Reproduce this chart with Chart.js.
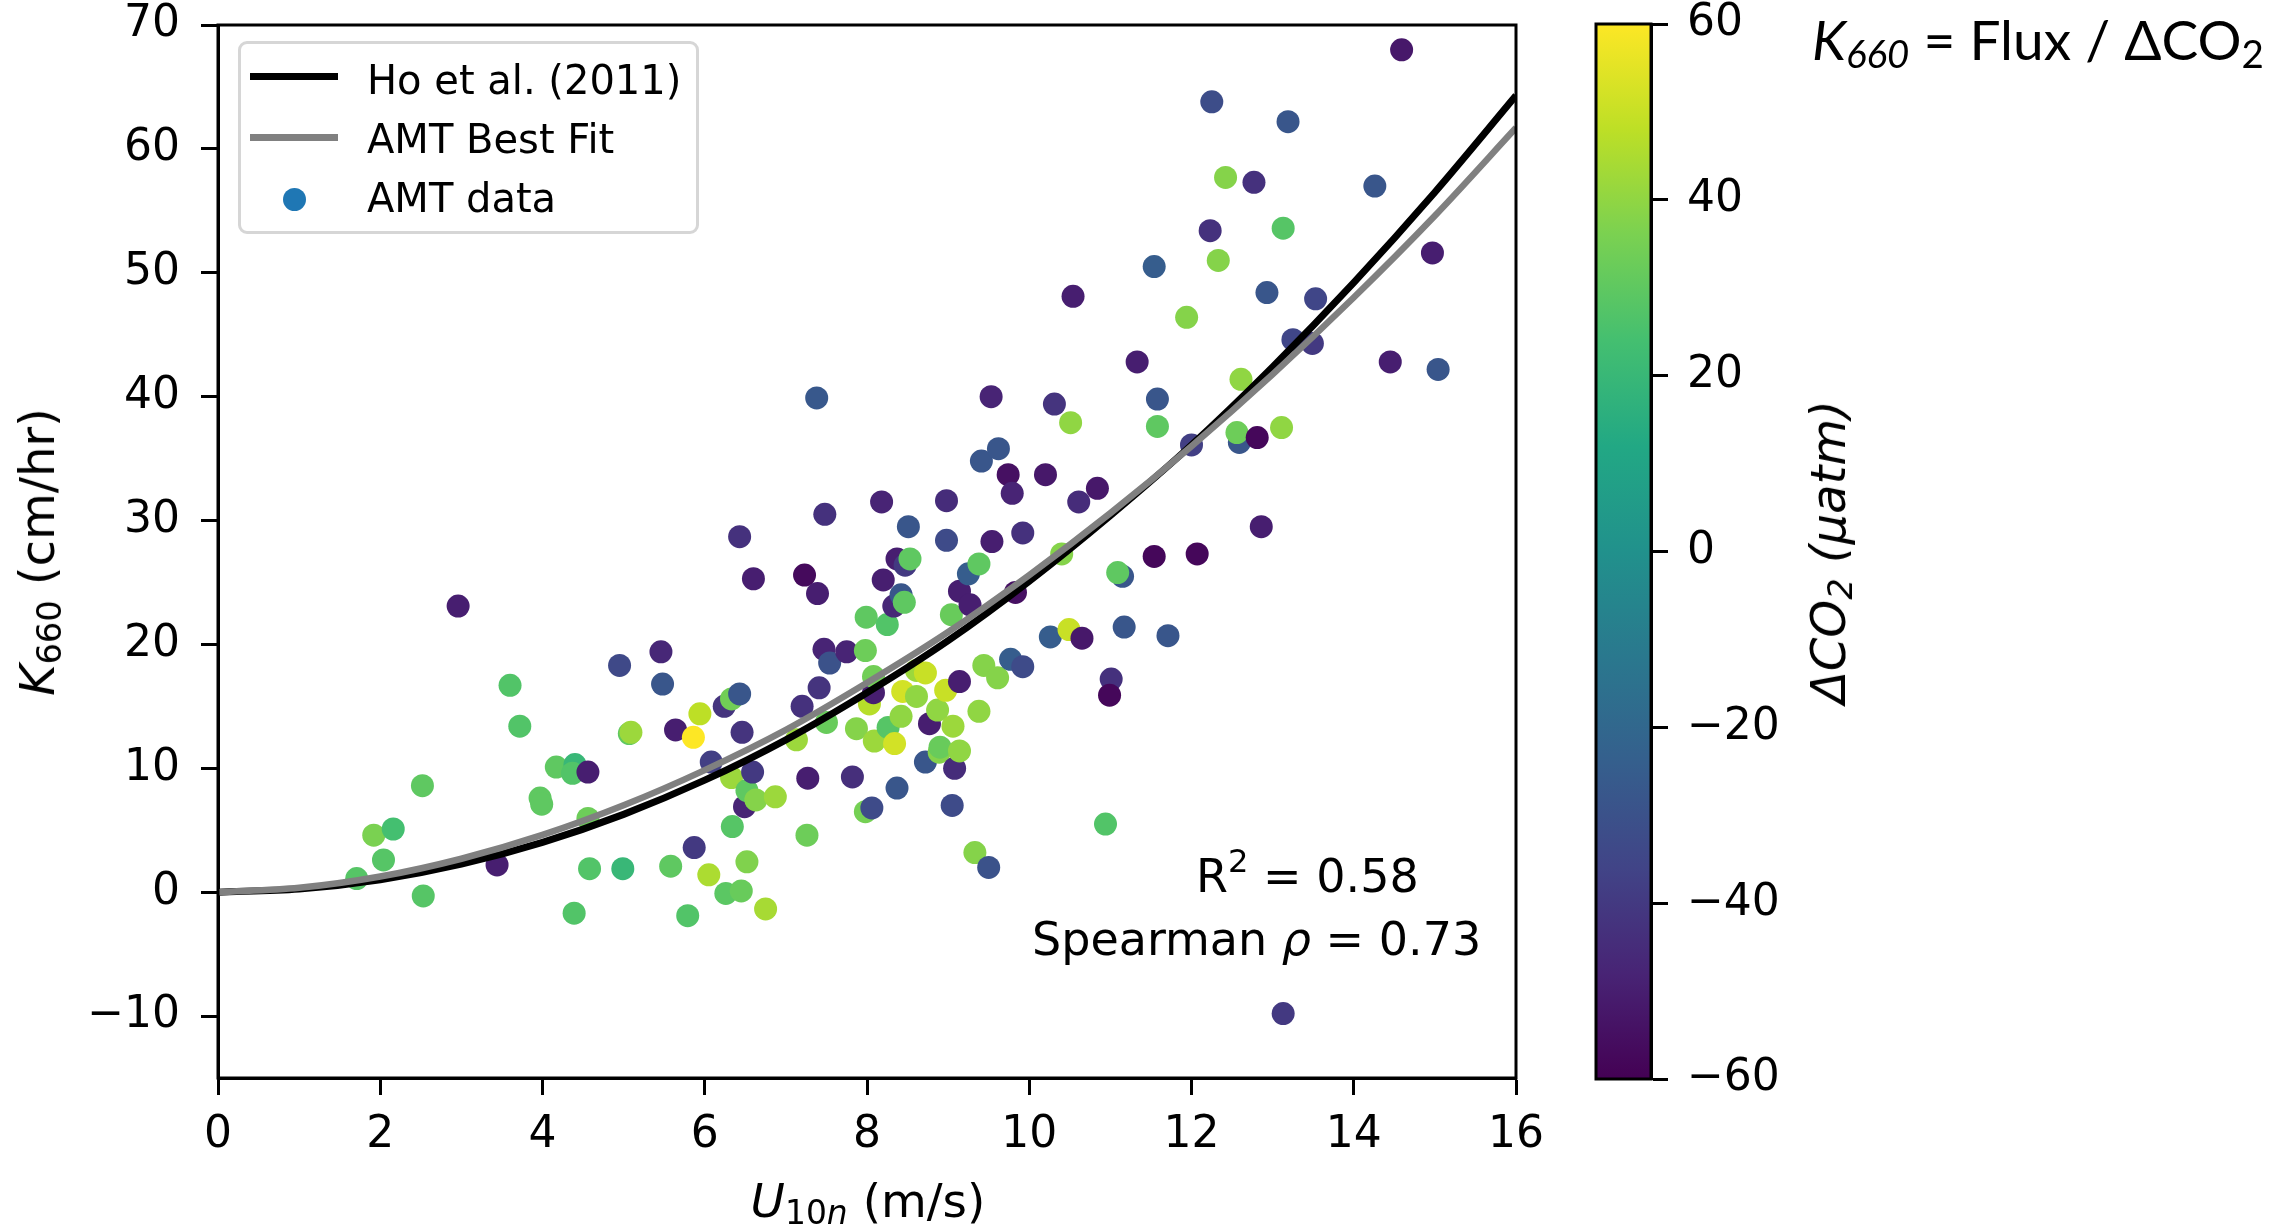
<!DOCTYPE html>
<html>
<head>
<meta charset="utf-8">
<title>K660 vs U10n</title>
<script src="https://cdn.jsdelivr.net/npm/chart.js@4.4.1/dist/chart.umd.min.js"></script>
<style>
  html, body { margin: 0; padding: 0; background: #fff; }
  body { position: relative; width: 2292px; height: 1228px; overflow: hidden; font-family: 'DejaVu Sans', sans-serif; color: #000; }
  canvas { position: absolute; top: 0; }
  #main { left: 0; }
  #cbar { left: 1560px; }
  .txt { position: absolute; white-space: nowrap; line-height: 1; }
  .rot { transform: translate(-50%, -50%) rotate(-90deg); }
  sub { font-size: 0.7em; line-height: 0; vertical-align: -0.22em; }
  sup { font-size: 0.7em; line-height: 0; vertical-align: 0.62em; }
  #legend-box { position: absolute; left: 238px; top: 41px; width: 461px; height: 193px; box-sizing: border-box;
    border: 3px solid #d6d6d6; border-radius: 9px; background: rgba(255,255,255,0.8); }
  .sw { position: absolute; }
</style>
</head>
<body>
<canvas id="main" width="2292" height="1228"></canvas>
<canvas id="cbar" width="300" height="1228"></canvas>

<div id="legend-box"></div>
<div class="sw" style="left:250px; top:73px; width:88px; height:7px; background:#000;"></div>
<div class="sw" style="left:250px; top:134px; width:88px; height:7px; background:#808080;"></div>
<div class="sw" style="left:283px; top:188px; width:23px; height:23px; border-radius:50%; background:#1f77b4;"></div>
<div class="txt" style="left:367px; top:60px; font-size:40px;">Ho et al. (2011)</div>
<div class="txt" style="left:367px; top:119px; font-size:40px;">AMT Best Fit</div>
<div class="txt" style="left:367px; top:178px; font-size:40px;">AMT data</div>

<div class="txt" style="left:1196px; top:853px; font-size:46px;">R<sup>2</sup> = 0.58</div>
<div class="txt" style="left:1032px; top:916px; font-size:46px;">Spearman <i>ρ</i> = 0.73</div>

<div class="txt rot" style="left:37px; top:552px; font-size:48px;"><i>K</i><sub>660</sub> (cm/hr)</div>
<div class="txt" style="left:868px; top:1177px; font-size:47px; transform:translateX(-50%);"><i>U</i><sub><span>10</span><i>n</i></sub> (m/s)</div>
<div class="txt rot" style="left:1828px; top:552px; font-size:48px; font-style:italic;">ΔCO<sub>2</sub> (μatm)</div>

<div class="txt" style="left:1812px; top:12px; font-size:55px; font-family:Lato, 'Open Sans', sans-serif;"><i>K</i><sub><i>660</i></sub> = Flux / ΔCO<sub>2</sub></div>

<script>
// wind speed (m/s), transfer velocity (cm/hr), delta pCO2 (uatm) for each AMT point
const uData = [1.71, 1.92, 2.04, 2.16, 2.52, 2.53, 2.96, 3.44, 3.60, 3.72, 3.97, 3.99, 4.17, 4.40, 4.37, 4.56, 4.56, 4.58, 4.39, 4.95,
  4.99, 5.07, 5.09, 5.46, 5.48, 5.58, 5.64, 5.79, 5.86, 5.87, 5.94, 6.05, 6.08, 6.24, 6.26, 6.33, 6.33, 6.34, 6.43, 6.43,
  6.45, 6.46, 6.49, 6.52, 6.52, 6.59, 6.60, 6.63, 6.75, 6.87, 7.13, 7.20, 7.23, 7.26, 7.27, 7.38, 7.39, 7.41, 7.47, 7.48,
  7.50, 7.54, 7.75, 7.82, 7.87, 7.98, 7.98, 7.99, 8.03, 8.06, 8.08, 8.09, 8.08, 8.18, 8.20, 8.25, 8.26, 8.33, 8.34, 8.37,
  8.37, 8.42, 8.42, 8.44, 8.46, 8.47, 8.51, 8.53, 8.61, 8.61, 8.72, 8.72, 8.77, 8.87, 8.89, 8.90, 8.97, 8.98, 8.98, 9.04,
  9.05, 9.06, 9.08, 9.14, 9.14, 9.14, 9.25, 9.27, 9.33, 9.38, 9.38, 9.41, 9.44, 9.50, 9.53, 9.54, 9.61, 9.62, 9.74, 9.77,
  9.79, 9.83, 9.92, 9.92, 10.20, 10.26, 10.31, 10.40, 10.49, 10.51, 10.54, 10.61, 10.65, 10.84, 10.94, 11.01, 10.99, 11.15, 11.09, 11.17,
  11.33, 11.54, 11.54, 11.58, 11.58, 11.71, 11.94, 12.00, 12.07, 12.23, 12.25, 12.33, 12.42, 12.59, 12.56, 12.61, 12.77, 12.81, 12.86, 12.93,
  13.11, 13.13, 13.13, 13.19, 13.25, 13.49, 13.53, 14.26, 14.45, 14.59, 14.97, 15.04];
const kData = [1.1, 4.6, 2.6, 5.1, 8.6, -0.3, 23.1, 2.2, 16.7, 13.4, 7.6, 7.1, 10.1, 10.3, 9.6, 9.7, 5.95, 1.9, -1.7, 18.3,
  1.9, 12.8, 12.9, 19.4, 16.8, 2.1, 13.1, -1.9, 12.5, 3.6, 14.4, 1.4, 10.5, 15.0, -0.1, 15.6, 9.25, 5.3, 16.0, 28.7,
  0.1, 12.9, 6.9, 8.2, 2.45, 9.7, 25.3, 7.45, -1.35, 7.7, 12.3, 15.0, 25.6, 4.6, 9.2, 39.9, 24.1, 16.5, 19.6, 30.5,
  13.7, 18.5, 19.4, 9.3, 13.2, 6.5, 19.5, 22.2, 15.2, 6.8, 16.1, 12.2, 17.4, 31.5, 25.2, 21.6, 13.3, 23.1, 12.0, 26.9,
  8.4, 24.0, 14.2, 16.2, 23.4, 26.4, 29.5, 26.9, 15.8, 17.9, 17.7, 10.5, 13.6, 14.7, 11.3, 11.7, 16.3, 28.4, 31.6, 22.4,
  7.0, 13.4, 10.0, 11.4, 17.0, 24.3, 25.7, 23.2, 3.2, 26.5, 14.6, 34.8, 18.3, 2.0, 40.0, 28.3, 17.3, 35.8, 33.7, 18.8,
  32.2, 24.2, 29.0, 18.2, 33.7, 20.6, 39.4, 27.3, 21.2, 37.9, 48.1, 31.5, 20.5, 32.6, 5.5, 17.2, 15.9, 25.5, 25.8, 21.4,
  42.8, 27.1, 50.5, 39.8, 37.6, 20.7, 46.4, 36.1, 27.3, 53.4, 63.8, 51.0, 57.7, 36.3, 37.1, 41.4, 57.3, 36.7, 29.5, 48.4,
  37.5, 53.6, -9.8, 62.2, 44.6, 44.3, 47.9, 57.0, 42.8, 68.0, 51.6, 42.2];
const dco2Data = [28, 36, 28, 24, 30, 28, -50, -50, 27, 27, 30, 30, 30, 20, 27, -50, 33, 27, 27, -34,
  20, 30, 42, -47, -28, 30, -50, 27, 60, -40, 48, 45, -38, -42, 29, 34, 42, 28, -28, -43,
  32, -42, -48, 30, 37, -40, -50, 38, 44, 42, 42, -43, -57, 33, -50, -27, -50, -42, -48, -43,
  32, -30, -48, -44, 38, 35, 33, 30, 47, -33, -50, 42, 34, -48, -50, 27, 28, -47, 52, -50,
  -28, -28, 40, 52, 30, -40, -28, 30, 40, 42, 50, -28, -50, 40, 38, 32, 50, -33, -45, 32,
  -33, 42, -45, 40, -50, -50, -25, -50, 38, 30, 40, -28, 38, -30, -48, -50, 38, -28, -55, -25,
  -48, -55, -43, -33, -52, -25, -42, 38, 50, 40, -50, -45, -52, -52, 27, -43, -58, -28, 30, -28,
  -50, -58, -25, -28, 30, -28, 38, -38, -58, -43, -32, 38, 38, -28, 33, 40, -43, -58, -50, -28,
  40, 28, -40, -28, -35, -40, -35, -28, -50, -52, -50, -28];

// curves at whole m/s steps
const uCurve = [0, 1, 2, 3, 4, 5, 6, 7, 8, 9, 10, 11, 12, 13, 14, 15, 16];
const hoK = [0, 0.25, 1.0, 2.26, 4.02, 6.28, 9.04, 12.3, 16.1, 20.3, 25.1, 30.4, 36.1, 42.4, 49.2, 56.5, 64.3];
const fitK = [0, 0.35, 1.26, 2.70, 4.62, 7.01, 9.85, 13.1, 16.9, 21.0, 25.6, 30.6, 36.0, 41.8, 48.0, 54.6, 61.7];

const xTicks = [0, 2, 4, 6, 8, 10, 12, 14, 16];
const yTicks = [-10, 0, 10, 20, 30, 40, 50, 60, 70];
const cbTicks = [-60, -40, -20, 0, 20, 40, 60];
const cbMin = -60, cbMax = 60;

const VIRIDIS = ['#440154', '#482475', '#414487', '#355f8d', '#2a788e', '#21918c',
  '#22a884', '#44bf70', '#7ad151', '#bddf26', '#fde725'];

function hexToRgb(h) {
  return [parseInt(h.slice(1, 3), 16), parseInt(h.slice(3, 5), 16), parseInt(h.slice(5, 7), 16)];
}

function viridis(v) {
  let t = (v - cbMin) / (cbMax - cbMin);
  t = Math.max(0, Math.min(1, t));
  const pos = t * (VIRIDIS.length - 1);
  const i = Math.min(Math.floor(pos), VIRIDIS.length - 2);
  const f = pos - i;
  const a = hexToRgb(VIRIDIS[i]), b = hexToRgb(VIRIDIS[i + 1]);
  const c = a.map((x, j) => Math.round(x + (b[j] - x) * f));
  return `rgb(${c[0]},${c[1]},${c[2]})`;
}

const minusSign = v => String(v).replace('-', '\u2212');
const tickFont = { family: 'DejaVu Sans', size: 44 };

// black frame round the plotting area
const frameBox = {
  id: 'frameBox',
  afterDraw(chart) {
    const { ctx, chartArea: a } = chart;
    ctx.save();
    ctx.strokeStyle = '#000';
    ctx.lineWidth = 3;
    ctx.strokeRect(a.left, a.top, a.right - a.left, a.bottom - a.top);
    ctx.restore();
  }
};

function axisGrid() {
  return { drawOnChartArea: false, drawTicks: true, tickLength: 17, tickWidth: 3, tickColor: '#000' };
}

// nudge layout padding until the plot area sits where the figure has it
function pinArea(chart, box) {
  const a = chart.chartArea;
  const p = chart.config.options.layout.padding;
  chart.config.options.layout.padding = {
    top: p.top + (box.top - a.top),
    bottom: p.bottom + (a.bottom - box.bottom),
    left: p.left + (box.left - a.left),
    right: p.right + (a.right - box.right)
  };
  chart.update();
}

function buildMain() {
  const points = uData.map((u, i) => ({ x: u, y: kData[i] }));
  const colors = dco2Data.map(viridis);

  const chart = new Chart(document.getElementById('main'), {
    type: 'scatter',
    data: {
      datasets: [
        {
          label: 'AMT Best Fit',
          data: uCurve.map((u, i) => ({ x: u, y: fitK[i] })),
          showLine: true, borderColor: '#808080', borderWidth: 6.5,
          pointRadius: 0, cubicInterpolationMode: 'monotone', order: 0
        },
        {
          label: 'Ho et al. (2011)',
          data: uCurve.map((u, i) => ({ x: u, y: hoK[i] })),
          showLine: true, borderColor: '#000', borderWidth: 7,
          pointRadius: 0, cubicInterpolationMode: 'monotone', order: 1
        },
        {
          label: 'AMT data',
          data: points,
          showLine: false, pointRadius: 11.5, pointBorderWidth: 0,
          pointBackgroundColor: colors, order: 2
        }
      ]
    },
    options: {
      responsive: false,
      animation: false,
      events: [],
      devicePixelRatio: 1,
      layout: { padding: { left: 0, top: 25, right: 776, bottom: 0 }, autoPadding: false },
      plugins: { legend: { display: false }, tooltip: { enabled: false } },
      scales: {
        x: {
          type: 'linear', min: 0, max: 16,
          afterBuildTicks: s => { s.ticks = xTicks.map(v => ({ value: v })); },
          afterFit: s => { s.height = 150; s.paddingLeft = 0; s.paddingRight = 0; },
          ticks: { font: tickFont, color: '#000', padding: 14, maxRotation: 0, autoSkip: false },
          grid: axisGrid(),
          border: { display: true, color: '#000', width: 3 }
        },
        y: {
          type: 'linear', min: -15, max: 70,
          afterBuildTicks: s => { s.ticks = yTicks.map(v => ({ value: v })); },
          afterFit: s => { s.width = 218; s.paddingTop = 0; s.paddingBottom = 0; },
          ticks: { font: tickFont, color: '#000', padding: 21, autoSkip: false, callback: minusSign },
          grid: axisGrid(),
          border: { display: true, color: '#000', width: 3 }
        }
      }
    },
    plugins: [frameBox]
  });
  pinArea(chart, { left: 218, right: 1516, top: 25, bottom: 1078 });
}

function buildColorbar() {
  const chart = new Chart(document.getElementById('cbar'), {
    type: 'bar',
    data: {
      labels: ['dco2'],
      datasets: [{
        data: [[cbMin, cbMax]],
        borderWidth: 0,
        barPercentage: 1,
        categoryPercentage: 1,
        backgroundColor: c => {
          const a = c.chart.chartArea;
          if (!a) return VIRIDIS[5];
          const g = c.chart.ctx.createLinearGradient(0, a.bottom, 0, a.top);
          VIRIDIS.forEach((col, i) => g.addColorStop(i / (VIRIDIS.length - 1), col));
          return g;
        }
      }]
    },
    options: {
      responsive: false,
      animation: false,
      events: [],
      devicePixelRatio: 1,
      layout: { padding: { left: 36, top: 24, right: 0, bottom: 149 }, autoPadding: false },
      plugins: { legend: { display: false }, tooltip: { enabled: false } },
      scales: {
        x: { display: false },
        y: {
          position: 'right', min: cbMin, max: cbMax,
          afterBuildTicks: s => { s.ticks = cbTicks.map(v => ({ value: v })); },
          afterFit: s => { s.width = 209; s.paddingTop = 0; s.paddingBottom = 0; },
          ticks: { font: tickFont, color: '#000', padding: 19, autoSkip: false, callback: minusSign },
          grid: axisGrid(),
          border: { display: true, color: '#000', width: 3 }
        }
      }
    },
    plugins: [frameBox]
  });
  pinArea(chart, { left: 36, right: 91, top: 24, bottom: 1079 });
}

document.addEventListener('DOMContentLoaded', () => {
  buildMain();
  buildColorbar();
});
</script>
</body>
</html>
